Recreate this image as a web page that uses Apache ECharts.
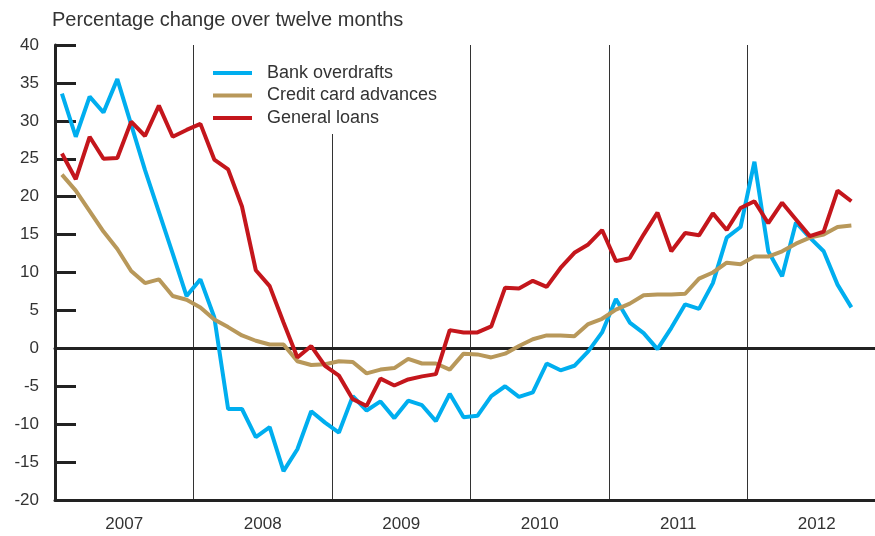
<!DOCTYPE html>
<html>
<head>
<meta charset="utf-8">
<script src="https://cdn.jsdelivr.net/npm/echarts@6/dist/echarts.min.js"></script>
<style>
html,body{margin:0;padding:0;background:#fff;overflow:hidden;width:875px;height:536px;}
#chart{width:886px;height:536px;}
</style>
</head>
<body>
<div id="chart"></div>
<script>
// Year labels (each year split into 10 equal slots on the x scale)
const years = ['2007', '2008', '2009', '2010', '2011', '2012'];
const slotsPerYear = 10;

const bankOverdrafts = [
  33.6, 27.9, 33.2, 31.1, 35.5, 29.5, 23.5, 18.0, 12.5, 6.9,
  9.1, 4.1, -8.0, -8.0, -11.7, -10.4, -16.2, -13.3, -8.3, -9.8,
  -11.1, -6.3, -8.2, -7.0, -9.2, -6.9, -7.5, -9.6, -6.0, -9.1,
  -8.9, -6.3, -5.0, -6.4, -5.8, -2.0, -2.9, -2.3, -0.4, 2.1,
  6.5, 3.4, 2.0, -0.1, 2.7, 5.8, 5.2, 8.6, 14.6, 16.0,
  24.6, 12.8, 9.5, 16.6, 14.6, 12.8, 8.4, 5.4
];
const creditCardAdvances = [
  22.9, 20.8, 18.1, 15.4, 13.1, 10.2, 8.6, 9.1, 6.9, 6.4,
  5.4, 3.8, 2.8, 1.7, 1.0, 0.5, 0.5, -1.7, -2.2, -2.1,
  -1.7, -1.8, -3.3, -2.8, -2.6, -1.4, -2.0, -2.0, -2.8, -0.7,
  -0.8, -1.2, -0.7, 0.3, 1.2, 1.7, 1.7, 1.6, 3.2, 3.9,
  5.1, 5.9, 7.0, 7.1, 7.1, 7.2, 9.2, 10.0, 11.3, 11.1,
  12.1, 12.1, 12.8, 13.8, 14.6, 15.0, 16.0, 16.2
];
const generalLoans = [
  25.7, 22.3, 27.9, 25.0, 25.1, 29.9, 28.0, 32.0, 27.9, 28.8,
  29.6, 24.9, 23.6, 18.7, 10.3, 8.2, 3.4, -1.2, 0.3, -2.3,
  -3.6, -6.7, -7.6, -4.0, -4.9, -4.1, -3.7, -3.4, 2.4, 2.1,
  2.1, 2.9, 8.0, 7.9, 8.9, 8.1, 10.6, 12.6, 13.7, 15.6,
  11.5, 11.9, 15.0, 17.9, 12.8, 15.2, 14.9, 17.8, 15.6, 18.5,
  19.4, 16.5, 19.2, 17.0, 14.8, 15.4, 20.8, 19.4
];
const yTicks = { min: -20, max: 40, interval: 5 };

// slot categories built from years
const slots = [];
years.forEach(y => { for (let k = 1; k <= slotsPerYear; k++) slots.push(y + '-' + k); });

const FONT = '"Liberation Sans", Arial, sans-serif';
const TXT = '#333333';
const AX = '#222222';

// split-line colours: show only the zero line
const nTicks = (yTicks.max - yTicks.min) / yTicks.interval + 1;
const splitColors = [];
for (let i = 0; i < nTicks; i++) {
  const v = yTicks.min + i * yTicks.interval;
  splitColors.push(v === 0 ? '#3a3a3a' : 'rgba(0,0,0,0)');
}

const chart = echarts.init(document.getElementById('chart'), null, { renderer: 'canvas' });
chart.setOption({
  animation: false,
  backgroundColor: '#ffffff',
  textStyle: { fontFamily: FONT },
  title: {
    text: 'Percentage change over twelve months',
    left: 52, top: 10, padding: 0,
    textStyle: { fontFamily: FONT, fontSize: 20, fontWeight: 'normal', color: TXT }
  },
  grid: { left: 55, right: 0, top: 45, height: 455, containLabel: false },
  legend: {
    orient: 'vertical',
    left: 213, top: 64, padding: 0,
    icon: 'rect', itemWidth: 39, itemHeight: 4, itemGap: 4.5,
    textStyle: { fontFamily: FONT, fontSize: 18, color: TXT, lineHeight: 18, padding: [0, 0, 0, 10] },
    data: ['Bank overdrafts', 'Credit card advances', 'General loans']
  },
  graphic: [{
    type: 'rect', z: 1,
    shape: { x: 207, y: 43, width: 245, height: 91 },
    style: { fill: '#ffffff' }
  }],
  xAxis: [
    {
      type: 'category', data: slots, position: 'top', boundaryGap: true, z: 2,
      axisLine: { show: true, lineStyle: { color: AX, width: 3 } },
      axisTick: { show: false }, axisLabel: { show: false }, splitLine: { show: false }
    },
    {
      type: 'category', data: years, position: 'bottom', boundaryGap: true,
      axisLine: { show: true, onZero: false, lineStyle: { color: AX, width: 3 } },
      axisTick: { show: false },
      axisLabel: { show: true, interval: 0, margin: 16, fontFamily: FONT, fontSize: 17, color: TXT },
      splitLine: { show: true, interval: 0, lineStyle: { color: '#333333', width: 1 } }
    }
  ],
  yAxis: {
    type: 'value', min: yTicks.min, max: yTicks.max, interval: yTicks.interval,
    axisLine: { show: true, lineStyle: { color: AX, width: 3 } },
    axisTick: { show: true, inside: true, length: 21, lineStyle: { color: AX, width: 3 } },
    axisLabel: { margin: 16, fontFamily: FONT, fontSize: 17, color: TXT },
    splitLine: { show: true, lineStyle: { color: splitColors, width: 1.3 } }
  },
  series: [
    {
      name: 'Bank overdrafts', type: 'line', xAxisIndex: 0, data: bankOverdrafts,
      symbol: 'none', color: '#00AEEF', lineStyle: { width: 4, color: '#00AEEF' }, z: 3
    },
    {
      name: 'Credit card advances', type: 'line', xAxisIndex: 0, data: creditCardAdvances,
      symbol: 'none', color: '#B8985A', lineStyle: { width: 4, color: '#B8985A' }, z: 4
    },
    {
      name: 'General loans', type: 'line', xAxisIndex: 0, data: generalLoans,
      symbol: 'none', color: '#C4161C', lineStyle: { width: 4, color: '#C4161C' }, z: 5
    }
  ]
});
</script>
</body>
</html>
